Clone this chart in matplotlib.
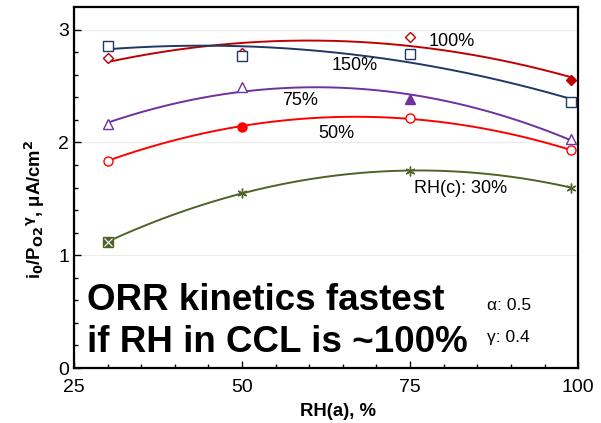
import numpy as np
import matplotlib.pyplot as plt

plt.rcParams['font.family'] = ['Liberation Sans', 'DejaVu Sans']

# anode RH values (%)
rh_a = [30, 50, 75, 99]

# i0 / PO2^gamma (uA/cm2) for each cathode RH
i0_150 = [2.86, 2.77, 2.785, 2.36]
i0_100 = [2.75, 2.79, 2.94, 2.55]
i0_75 = [2.16, 2.49, 2.39, 2.03]
i0_50 = [1.84, 2.14, 2.215, 1.93]
i0_30 = [1.12, 1.55, 1.75, 1.60]

# which point in each series is drawn filled
filled_100 = 3
filled_75 = 2
filled_50 = 1

fig = plt.figure(figsize=(6.01, 4.23), dpi=100)
ax = fig.add_axes([0.123, 0.130, 0.839, 0.853])

xs = np.linspace(30, 99, 200)


def trend(y, color):
    c = np.polyfit(rh_a, y, 2)
    ax.plot(xs, np.polyval(c, xs), color=color, lw=1.4, zorder=2)


def series(y, color, marker, filled=None, ms=6):
    trend(y, color)
    for i, (x, v) in enumerate(zip(rh_a, y)):
        fc = color if i == filled else 'white'
        ax.plot(x, v, marker=marker, ms=ms, mfc=fc, mec=color, mew=1.0,
                ls='none', zorder=3)


series(i0_100, '#C00000', 'D', filled_100, ms=5)
series(i0_150, '#1F3864', 's', None, ms=6.5)
series(i0_75, '#7030A0', '^', filled_75, ms=6.5)
series(i0_50, '#FF0000', 'o', filled_50, ms=6.5)

# 30% series: asterisk markers, first point overlaid with a filled square
olive = '#4F6228'
trend(i0_30, olive)
ax.plot(rh_a[0], i0_30[0], marker='s', ms=7, mfc=olive, mec=olive, ls='none', zorder=3)
ax.plot(rh_a[0], i0_30[0], marker='x', ms=6, mec='white', mew=0.8, ls='none', zorder=4)
ax.plot(rh_a, i0_30, marker=(6, 2, 0), ms=7, mec=olive, mew=1.0, ls='none', zorder=3)

# series labels
ax.text(77.8, 2.90, '100%', fontsize=13, va='center')
ax.text(66.8, 2.68, '150%', fontsize=13, ha='center', va='center')
ax.text(58.6, 2.37, '75%', fontsize=13, ha='center', va='center')
ax.text(64.0, 2.08, '50%', fontsize=13, ha='center', va='center')
ax.text(75.6, 1.59, 'RH(c): 30%', fontsize=13, va='center')

ax.text(27.0, 0.60, 'ORR kinetics fastest', fontsize=26.5, fontweight='bold', va='center')
ax.text(27.0, 0.23, 'if RH in CCL is ~100%', fontsize=26.5, fontweight='bold', va='center')
ax.text(86.5, 0.55, 'α: 0.5', fontsize=12.5, va='center')
ax.text(86.5, 0.27, 'γ: 0.4', fontsize=12.5, va='center')

ax.set_xlim(25, 100)
ax.set_ylim(0, 3.2)
ax.set_xticks([25, 50, 75, 100])
ax.set_xticks(np.arange(25, 101, 5), minor=True)
ax.set_yticks([0, 1, 2, 3])
ax.set_yticks(np.arange(0, 3.2, 0.2), minor=True)
ax.tick_params(which='both', direction='in', labelsize=14)
ax.tick_params(which='major', length=5, width=1)
ax.tick_params(which='minor', length=3, width=1)
ax.tick_params(axis='x', pad=8)
ax.yaxis.grid(True, color='#ebebeb', lw=0.8)
ax.set_axisbelow(True)
for s in ax.spines.values():
    s.set_linewidth(1.6)

ax.set_xlabel('RH(a), %', fontsize=13.3, fontweight='bold')
ax.set_ylabel(r'i$_\mathbf{0}$/P$_\mathbf{O2}$$^\mathbf{\gamma}$, μA/cm$^\mathbf{2}$',
              fontsize=13.3, fontweight='bold')
ax.xaxis.set_label_coords(0.524, -0.097)
ax.yaxis.set_label_coords(-0.054, 0.44)

fig.savefig('out.png', dpi=100)
